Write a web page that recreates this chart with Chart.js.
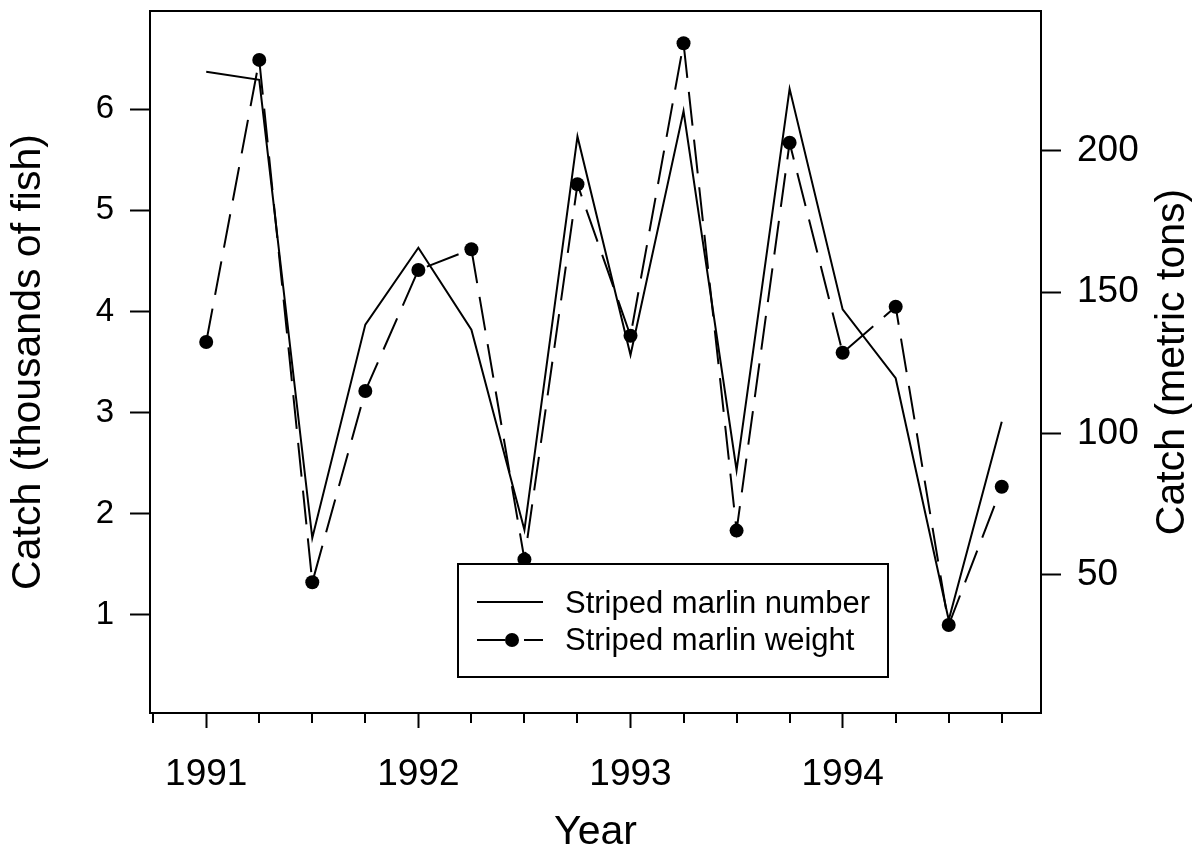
<!DOCTYPE html>
<html><head><meta charset="utf-8">
<script src="https://cdn.jsdelivr.net/npm/chart.js@4.4.1/dist/chart.umd.min.js"></script>
<style>html,body{margin:0;padding:0;background:#fff;}canvas{display:block;}</style>
</head><body>
<canvas id="c" width="1199" height="855"></canvas>
<script>
// ---- data ----
const quarters = [1991.0, 1991.25, 1991.5, 1991.75, 1992.0, 1992.25, 1992.5, 1992.75,
                  1993.0, 1993.25, 1993.5, 1993.75, 1994.0, 1994.25, 1994.5, 1994.75];
const numberCatch = [6.37, 6.29, 1.76, 3.87, 4.63, 3.82, 1.84, 5.73,
                     3.57, 5.98, 2.43, 6.20, 4.02, 3.34, 0.95, 2.91];
const weightCatch = [132.4, 232.2, 47.4, 115.1, 157.9, 165.2, 55.5, 188.2,
                     134.6, 238.1, 65.7, 202.9, 128.6, 144.9, 32.3, 81.2];
const xTickValues = [1990.75, 1991, 1991.25, 1991.5, 1991.75, 1992, 1992.25, 1992.5, 1992.75,
                     1993, 1993.25, 1993.5, 1993.75, 1994, 1994.25, 1994.5, 1994.75];
const yearLabels = [1991, 1992, 1993, 1994];
const leftTicks = [1, 2, 3, 4, 5, 6];
const rightTicks = [50, 100, 150, 200];
const seriesNames = ['Striped marlin number', 'Striped marlin weight'];
const xTitle = 'Year';
const leftTitle = 'Catch (thousands of fish)';
const rightTitle = 'Catch (metric tons)';

const FONT = '"Liberation Sans", Arial, Helvetica, sans-serif';
const DASH = [34, 14];

function noPad(s) { s.paddingTop = 0; s.paddingBottom = 0; s.paddingLeft = 0; s.paddingRight = 0; }

const extrasPlugin = {
  id: 'extras',
  afterDraw(chart) {
    const ctx = chart.ctx;
    const a = chart.chartArea;
    const xs = chart.scales.x;
    ctx.save();
    ctx.strokeStyle = '#000';
    ctx.lineWidth = 2;
    // top frame
    ctx.beginPath();
    ctx.moveTo(a.left - 1, a.top);
    ctx.lineTo(a.right + 1, a.top);
    ctx.stroke();
    // minor x ticks
    xTickValues.filter(v => !yearLabels.includes(v)).forEach(v => {
      const px = Math.round(xs.getPixelForValue(v));
      ctx.beginPath();
      ctx.moveTo(px, a.bottom);
      ctx.lineTo(px, a.bottom + 10);
      ctx.stroke();
    });
    // right axis title (reads bottom-to-top)
    ctx.save();
    ctx.translate(1173, (a.top + a.bottom) / 2);
    ctx.rotate(-Math.PI / 2);
    ctx.font = '41px ' + FONT;
    ctx.fillStyle = '#000';
    ctx.textAlign = 'center';
    ctx.textBaseline = 'middle';
    ctx.fillText(rightTitle, 0, 0);
    ctx.restore();
    // legend
    const ds = chart.data.datasets;
    ctx.fillStyle = '#fff';
    ctx.fillRect(458, 564, 430, 113);
    ctx.strokeRect(458, 564, 430, 113);
    ctx.font = '31px ' + FONT;
    ctx.fillStyle = '#000';
    ctx.textBaseline = 'alphabetic';
    ctx.textAlign = 'left';
    ctx.beginPath();
    ctx.moveTo(477, 602); ctx.lineTo(543, 602);
    ctx.stroke();
    ctx.fillText(ds[0].label, 565, 613);
    ctx.beginPath();
    ctx.moveTo(477, 640); ctx.lineTo(505, 640);
    ctx.moveTo(524, 640); ctx.lineTo(543, 640);
    ctx.stroke();
    ctx.beginPath();
    ctx.arc(512, 640, 7, 0, Math.PI * 2);
    ctx.fill();
    ctx.fillText(ds[1].label, 565, 650);
    ctx.restore();
  }
};

new Chart(document.getElementById('c'), {
  type: 'line',
  data: {
    datasets: [
      {
        label: seriesNames[0],
        data: quarters.map((q, i) => ({x: q, y: numberCatch[i]})),
        yAxisID: 'y',
        borderColor: '#000',
        borderWidth: 2,
        pointRadius: 0,
        tension: 0,
        fill: false
      },
      {
        label: seriesNames[1],
        data: quarters.map((q, i) => ({x: q, y: weightCatch[i]})),
        yAxisID: 'y2',
        borderColor: '#000',
        borderWidth: 2,
        borderDash: DASH,
        pointRadius: 7,
        pointBackgroundColor: '#000',
        pointBorderWidth: 0,
        tension: 0,
        fill: false
      }
    ]
  },
  options: {
    responsive: false,
    animation: false,
    devicePixelRatio: 1,
    layout: {padding: {top: 11, left: 0, right: 0, bottom: 0}},
    plugins: {legend: {display: false}, tooltip: {enabled: false}},
    scales: {
      x: {
        type: 'linear',
        position: 'bottom',
        min: 1990.735,
        max: 1994.935,
        afterBuildTicks: s => { s.ticks = xTickValues.map(v => ({value: v})); },
        afterFit: s => { s.height = 142; noPad(s); },
        border: {display: true, color: '#000', width: 2},
        grid: {
          drawOnChartArea: false, drawTicks: true, tickLength: 15, tickWidth: 2,
          tickColor: c => (c.tick && yearLabels.includes(c.tick.value)) ? '#000' : 'rgba(0,0,0,0)'
        },
        ticks: {
          autoSkip: false, maxRotation: 0, padding: 25, color: '#000',
          font: {family: FONT, size: 37},
          callback: v => yearLabels.includes(v) ? String(v) : ''
        },
        title: {display: true, text: xTitle, color: '#000',
                font: {family: FONT, size: 41, lineHeight: 1}, padding: {top: 0, bottom: 2}}
      },
      y: {
        type: 'linear',
        position: 'left',
        min: 0.03,
        max: 6.97,
        afterBuildTicks: s => { s.ticks = leftTicks.map(v => ({value: v})); },
        afterFit: s => { s.width = 150; noPad(s); },
        border: {display: true, color: '#000', width: 2},
        grid: {drawOnChartArea: false, drawTicks: true, tickLength: 20, tickWidth: 2, tickColor: '#000'},
        ticks: {padding: 16, color: '#000', font: {family: FONT, size: 33}},
        title: {display: true, text: leftTitle, color: '#000',
                font: {family: FONT, size: 41, lineHeight: 1.2}, padding: {top: 4, bottom: 0}}
      },
      y2: {
        type: 'linear',
        position: 'right',
        min: 1.17,
        max: 249.5,
        afterBuildTicks: s => { s.ticks = rightTicks.map(v => ({value: v})); },
        afterFit: s => { s.width = 158; noPad(s); },
        border: {display: true, color: '#000', width: 2},
        grid: {drawOnChartArea: false, drawTicks: true, tickLength: 20, tickWidth: 2, tickColor: '#000'},
        ticks: {padding: 16, color: '#000', font: {family: FONT, size: 37}},
        title: {display: false}
      }
    }
  },
  plugins: [extrasPlugin]
});
</script>
</body></html>
